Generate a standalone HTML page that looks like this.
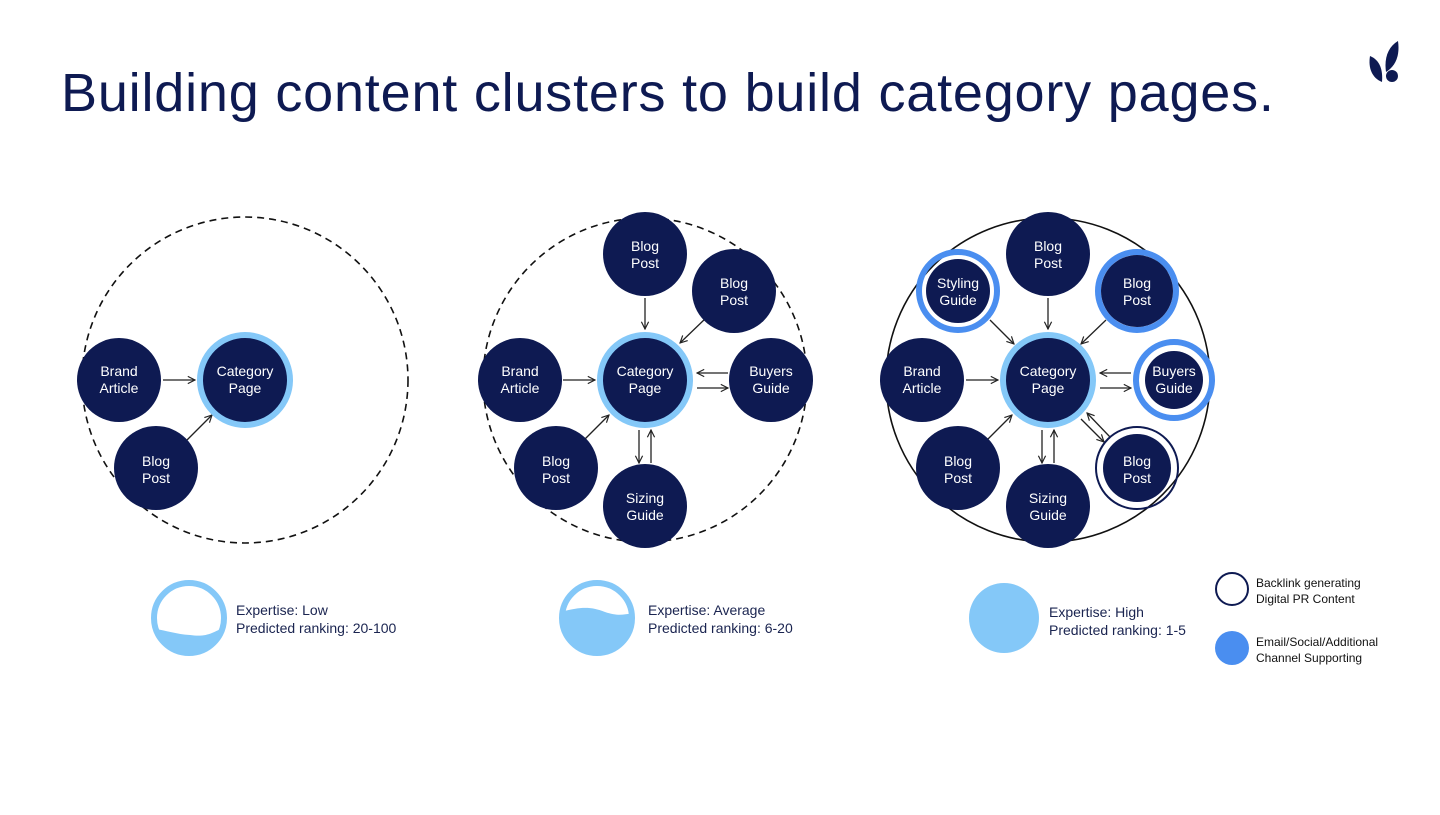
<!DOCTYPE html>
<html><head><meta charset="utf-8"><style>
body{margin:0;background:#fff;width:1440px;height:810px;overflow:hidden}
svg text{font-family:"Liberation Sans",sans-serif}
</style></head><body>
<svg width="1440" height="810" viewBox="0 0 1440 810" xmlns="http://www.w3.org/2000/svg">
<defs>
<marker id="a" viewBox="0 0 10 10" refX="9" refY="5" markerWidth="9" markerHeight="9" markerUnits="userSpaceOnUse" orient="auto">
<path d="M1,1 L9,5 L1,9" fill="none" stroke="#222" stroke-width="1.3"/></marker>
</defs>
<text x="61" y="111" font-size="54" letter-spacing="0.8" fill="#0e1a52">Building content clusters to build category pages.</text>
<g fill="#0e1a52">
<path d="M1370,56 C1380,60 1383,70 1382,82 C1372,78 1368,68 1370,56Z"/>
<path d="M1398,41 C1400,55 1396,66 1386,72 C1384,58 1388,47 1398,41Z"/>
<circle cx="1392" cy="76" r="6"/>
</g>
<g stroke="#222" stroke-width="1.3" fill="none" marker-end="url(#a)">
<line x1="163" y1="380" x2="195" y2="380"/>
<line x1="187" y1="440" x2="212" y2="415"/>
<line x1="645" y1="298" x2="645" y2="329"/>
<line x1="706" y1="318" x2="680" y2="343"/>
<line x1="563" y1="380" x2="595" y2="380"/>
<line x1="728" y1="373" x2="697" y2="373"/>
<line x1="697" y1="388" x2="728" y2="388"/>
<line x1="584" y1="440" x2="609" y2="415"/>
<line x1="639" y1="430" x2="639" y2="463"/>
<line x1="651" y1="463" x2="651" y2="430"/>
<line x1="1048" y1="298" x2="1048" y2="329"/>
<line x1="1106" y1="320" x2="1081" y2="344"/>
<line x1="990" y1="320" x2="1014" y2="344"/>
<line x1="966" y1="380" x2="998" y2="380"/>
<line x1="1131" y1="373" x2="1100" y2="373"/>
<line x1="1100" y1="388" x2="1131" y2="388"/>
<line x1="987" y1="440" x2="1012" y2="415"/>
<line x1="1042" y1="430" x2="1042" y2="463"/>
<line x1="1054" y1="463" x2="1054" y2="430"/>
<line x1="1081" y1="419" x2="1104" y2="442"/>
<line x1="1110" y1="437" x2="1087" y2="413"/>
</g>
<circle cx="245" cy="380" r="163" fill="none" stroke="#111" stroke-width="1.6" stroke-dasharray="7,5"/>
<circle cx="645" cy="380" r="162" fill="none" stroke="#111" stroke-width="1.6" stroke-dasharray="7,5"/>
<circle cx="1048" cy="380" r="162" fill="none" stroke="#111" stroke-width="1.6"/>
<circle cx="958" cy="291" r="39" fill="none" stroke="#4a8ef0" stroke-width="6"/>
<circle cx="1137" cy="291" r="39" fill="none" stroke="#4a8ef0" stroke-width="6"/>
<circle cx="1174" cy="380" r="38" fill="none" stroke="#4a8ef0" stroke-width="6"/>
<circle cx="1137" cy="468" r="41" fill="none" stroke="#0e1a52" stroke-width="2"/>
<g fill="#0e1a52">
<circle cx="119" cy="380" r="42"/><circle cx="156" cy="468" r="42"/>
<circle cx="645" cy="254" r="42"/><circle cx="734" cy="291" r="42"/><circle cx="520" cy="380" r="42"/><circle cx="771" cy="380" r="42"/><circle cx="556" cy="468" r="42"/><circle cx="645" cy="506" r="42"/>
<circle cx="1048" cy="254" r="42"/><circle cx="922" cy="380" r="42"/><circle cx="958" cy="468" r="42"/><circle cx="1048" cy="506" r="42"/>
<circle cx="958" cy="291" r="32"/><circle cx="1137" cy="291" r="36"/><circle cx="1174" cy="380" r="29"/><circle cx="1137" cy="468" r="34"/>
</g>
<g fill="#0e1a52" stroke="#84c8f8" stroke-width="6">
<circle cx="245" cy="380" r="45"/><circle cx="645" cy="380" r="45"/><circle cx="1048" cy="380" r="45"/>
</g>
<g fill="#fff" font-size="14" text-anchor="middle">
<text x="119" y="376">Brand</text><text x="119" y="393">Article</text>
<text x="245" y="376">Category</text><text x="245" y="393">Page</text>
<text x="156" y="466">Blog</text><text x="156" y="483">Post</text>
<text x="645" y="251">Blog</text><text x="645" y="268">Post</text>
<text x="734" y="288">Blog</text><text x="734" y="305">Post</text>
<text x="520" y="376">Brand</text><text x="520" y="393">Article</text>
<text x="645" y="376">Category</text><text x="645" y="393">Page</text>
<text x="771" y="376">Buyers</text><text x="771" y="393">Guide</text>
<text x="556" y="466">Blog</text><text x="556" y="483">Post</text>
<text x="645" y="503">Sizing</text><text x="645" y="520">Guide</text>
<text x="1048" y="251">Blog</text><text x="1048" y="268">Post</text>
<text x="958" y="288">Styling</text><text x="958" y="305">Guide</text>
<text x="1137" y="288">Blog</text><text x="1137" y="305">Post</text>
<text x="922" y="376">Brand</text><text x="922" y="393">Article</text>
<text x="1048" y="376">Category</text><text x="1048" y="393">Page</text>
<text x="1174" y="376">Buyers</text><text x="1174" y="393">Guide</text>
<text x="958" y="466">Blog</text><text x="958" y="483">Post</text>
<text x="1048" y="503">Sizing</text><text x="1048" y="520">Guide</text>
<text x="1137" y="466">Blog</text><text x="1137" y="483">Post</text>
</g>
<clipPath id="c1"><circle cx="189" cy="618" r="35"/></clipPath>
<clipPath id="c2"><circle cx="597" cy="618" r="35"/></clipPath>
<circle cx="189" cy="618" r="35" fill="#84c8f8"/>
<path d="M150,580 H230 V625 C215,630 210,638 190,635 C175,634 165,630 150,628 Z" fill="#fff" clip-path="url(#c1)"/>
<circle cx="189" cy="618" r="35" fill="none" stroke="#84c8f8" stroke-width="6"/>
<circle cx="597" cy="618" r="35" fill="#84c8f8"/>
<path d="M558,580 H640 V612 C625,614 620,617 605,612 C590,606 580,607 560,612 Z" fill="#fff" clip-path="url(#c2)"/>
<circle cx="597" cy="618" r="35" fill="none" stroke="#84c8f8" stroke-width="6"/>
<circle cx="1004" cy="618" r="35" fill="#84c8f8"/>
<g fill="#1a2450" font-size="14">
<text x="236" y="615">Expertise: Low</text><text x="236" y="633">Predicted ranking: 20-100</text>
<text x="648" y="615">Expertise: Average</text><text x="648" y="633">Predicted ranking: 6-20</text>
<text x="1049" y="617">Expertise: High</text><text x="1049" y="635">Predicted ranking: 1-5</text>
</g>
<circle cx="1232" cy="589" r="16" fill="#fff" stroke="#0e1a52" stroke-width="2"/>
<circle cx="1232" cy="648" r="17" fill="#4a8ef0"/>
<g fill="#111" font-size="12">
<text x="1256" y="587">Backlink generating</text><text x="1256" y="603">Digital PR Content</text>
<text x="1256" y="646">Email/Social/Additional</text><text x="1256" y="662">Channel Supporting</text>
</g>
</svg>
</body></html>
